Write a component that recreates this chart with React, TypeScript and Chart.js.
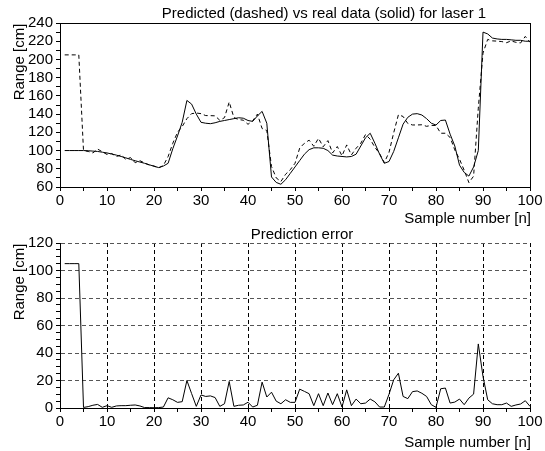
import React, { useEffect, useRef } from 'react';
import { Chart, registerables } from 'chart.js';

Chart.register(...registerables);

const FONT = '"Liberation Sans", Arial, Helvetica, sans-serif';

// Real (measured) range, samples 1..100
const realRange = [
  100, 100, 100, 100, 100, 99.8, 99.4, 99, 98.2, 97.4,
  96.2, 95, 93.5, 92, 90.3, 88.8, 87.4, 86, 84.4, 82.8,
  81.3, 83, 86, 102, 116, 131, 155, 151, 140, 131,
  130, 129.5, 130.5, 132, 133, 134, 135, 136, 135.5, 133,
  132, 138, 143, 130, 71, 65, 63, 68, 75, 82,
  89, 96, 101, 103, 103, 102.5, 100, 95, 94, 93.5,
  93, 93.5, 96, 105, 114, 119, 108, 96, 86, 88,
  99, 114, 129, 136.5, 140, 140.5, 139, 135, 130, 128,
  133, 133.5, 118, 105, 84, 76, 72, 82, 100, 230,
  228, 223.5, 222.5, 222, 222, 221.5, 221, 221, 220, 220,
];

// Predicted range, samples 1..100
const predictedRange = [
  205, 205, 205, 205, 100, 99, 97.4, 101.6, 98.7, 95.7,
  96.7, 93.5, 95.2, 90.3, 92.3, 86.6, 88.9, 86.3, 84.1, 83,
  81, 83.7, 93.4, 108, 120, 126.4, 135, 140.5, 141.2, 140.5,
  138.4, 138.3, 138.1, 133.2, 136.1, 153.3, 136.2, 134, 133.3, 128.8,
  132.7, 140, 124.2, 122, 82.5, 70, 66, 74, 79, 86,
  102.7, 108, 111.4, 104.7, 113.4, 104.2, 110.9, 97.4, 104.4, 94.2,
  106.2, 95.2, 102.5, 108, 117.6, 112.5, 103.5, 96.7, 86.7, 98,
  119.5, 139.3, 137.4, 129.7, 128.1, 128.1, 128.3, 126.6, 127.6, 127.5,
  119, 119, 114.4, 100.7, 90.5, 78.4, 64.8, 71.9, 146.6, 207,
  222, 220.4, 220.1, 219.6, 218.4, 220.3, 218.8, 218.1, 225.3, 218.8,
];

// Prediction error, samples 1..100
const predictionError = [
  105, 105, 105, 105, 0.4, 1, 2, 2.6, 0.5, 1.7,
  0.5, 1.5, 1.7, 1.7, 2, 2.2, 1.5, 0.3, 0.3, 0.2,
  0.3, 0.7, 7.4, 6, 4.1, 4.6, 20, 10.5, 1.2, 9.5,
  8.4, 8.8, 7.6, 1.2, 3.1, 19.3, 1.2, 2, 2.2, 4.2,
  0.7, 2, 18.8, 8, 11.5, 5, 3.1, 6, 4.1, 4.1,
  13.7, 12.1, 10.4, 1.7, 10.4, 1.7, 10.9, 2.4, 10.4, 0.7,
  13.2, 1.7, 6.5, 3.1, 3.6, 6.5, 4.5, 0.7, 0.7, 10,
  20.5, 25.3, 8.4, 6.8, 11.9, 12.4, 10.7, 8.4, 2.4, 0.5,
  14, 14.5, 3.6, 4.3, 6.5, 2.4, 7.2, 10.1, 46.6, 22.9,
  6, 3.1, 2.4, 2.4, 3.6, 1.2, 2.2, 2.9, 5.3, 1.2,
];

const sampleNumbers = realRange.map((_, i) => i + 1);

const xAxisRange = [0, 100];
const xTickStep = 5;
const xLabelStep = 10;
const topYRange = [60, 240];
const topYTickStep = 10;
const topYLabelStep = 20;
const bottomYRange = [0, 120];
const bottomYTickStep = 5;
const bottomYLabelStep = 20;

const topTitle = 'Predicted (dashed) vs real data (solid) for laser 1';
const bottomTitle = 'Prediction error';
const xTitle = 'Sample number [n]';
const yTitle = 'Range [cm]';

const toPoints = (values: number[]) => values.map((v, i) => ({ x: sampleNumbers[i], y: v }));

type TextSpec = {
  title: string;
  titleX: number;
  titleY: number;
  yTitleX: number;
  yTitleY: number;
  xTitleRight: number;
  xTitleY: number;
  box: boolean;
};

function makeTextPlugin(spec: TextSpec) {
  return {
    id: 'annotText',
    afterDraw(chart: any) {
      const { ctx, chartArea: a } = chart;
      ctx.save();
      if (spec.box) {
        ctx.strokeStyle = '#000';
        ctx.lineWidth = 1;
        ctx.setLineDash([]);
        ctx.beginPath();
        ctx.moveTo(Math.round(a.left), Math.round(a.top) + 0.5);
        ctx.lineTo(Math.round(a.right) + 1, Math.round(a.top) + 0.5);
        ctx.moveTo(Math.round(a.right) + 0.5, Math.round(a.top));
        ctx.lineTo(Math.round(a.right) + 0.5, Math.round(a.bottom) + 1);
        ctx.stroke();
      }
      ctx.fillStyle = '#000';
      ctx.font = `15px ${FONT}`;
      ctx.textBaseline = 'alphabetic';
      ctx.textAlign = 'center';
      ctx.fillText(spec.title, spec.titleX, spec.titleY);
      ctx.textAlign = 'right';
      ctx.fillText(xTitle, spec.xTitleRight, spec.xTitleY);
      ctx.save();
      ctx.translate(spec.yTitleX, spec.yTitleY);
      ctx.rotate(-Math.PI / 2);
      ctx.textAlign = 'center';
      ctx.fillText(yTitle, 0, 0);
      ctx.restore();
      ctx.restore();
    },
  };
}

const tickFont = { family: FONT, size: 15 };

function xScale(height: number, grid: boolean) {
  return {
    type: 'linear',
    min: xAxisRange[0],
    max: xAxisRange[1],
    afterFit: (s: any) => {
      s.height = height;
    },
    ticks: {
      stepSize: xTickStep,
      maxTicksLimit: 1000,
      autoSkip: false,
      maxRotation: 0,
      minRotation: 0,
      padding: 1,
      color: '#000',
      font: tickFont,
      callback: (v: number) => (v % xLabelStep === 0 ? String(v) : ''),
    },
    grid: {
      display: true,
      drawOnChartArea: grid,
      drawTicks: true,
      tickLength: 4,
      tickColor: '#000',
      tickWidth: 1,
      lineWidth: 1,
      color: (c: any) =>
        grid && c.tick && c.tick.value % xLabelStep === 0 && c.tick.value !== xAxisRange[0]
          ? '#000'
          : 'rgba(0,0,0,0)',
    },
    border: { display: true, color: '#000', width: 1, dash: grid ? [4, 3] : [] },
  };
}

function yScale(range: number[], step: number, labelStep: number, grid: boolean) {
  return {
    type: 'linear',
    min: range[0],
    max: range[1],
    afterFit: (s: any) => {
      s.width = 60;
    },
    ticks: {
      stepSize: step,
      maxTicksLimit: 1000,
      autoSkip: false,
      padding: 3,
      color: '#000',
      font: tickFont,
      callback: (v: number) => (v % labelStep === 0 ? String(v) : ''),
    },
    grid: {
      display: true,
      drawOnChartArea: grid,
      drawTicks: true,
      tickLength: 4,
      tickColor: '#000',
      tickWidth: 1,
      lineWidth: 1,
      color: (c: any) =>
        grid && c.tick && c.tick.value % labelStep === 0 && c.tick.value !== range[0]
          ? '#555'
          : 'rgba(0,0,0,0)',
    },
    border: { display: true, color: '#000', width: 1, dash: grid ? [4, 3] : [] },
  };
}

function topConfig(): any {
  return {
    type: 'line',
    data: {
      datasets: [
        {
          label: 'Predicted',
          data: toPoints(predictedRange),
          borderColor: '#000',
          borderWidth: 1,
          borderDash: [4, 3],
          pointRadius: 0,
          tension: 0,
          fill: false,
        },
        {
          label: 'Real',
          data: toPoints(realRange),
          borderColor: '#000',
          borderWidth: 1,
          pointRadius: 0,
          tension: 0,
          fill: false,
        },
      ],
    },
    options: {
      responsive: false,
      animation: false,
      devicePixelRatio: 1,
      events: [],
      layout: { padding: { top: 23, right: 15, left: 0, bottom: 0 } },
      plugins: { legend: { display: false }, tooltip: { enabled: false }, title: { display: false } },
      scales: {
        x: xScale(39, false),
        y: yScale(topYRange, topYTickStep, topYLabelStep, false),
      },
    },
    plugins: [
      makeTextPlugin({
        title: topTitle,
        titleX: 324,
        titleY: 18,
        yTitleX: 24,
        yTitleY: 62,
        xTitleRight: 531,
        xTitleY: 223,
        box: true,
      }),
    ],
  };
}

function bottomConfig(): any {
  return {
    type: 'line',
    data: {
      datasets: [
        {
          label: 'Error',
          data: toPoints(predictionError),
          borderColor: '#000',
          borderWidth: 1,
          pointRadius: 0,
          tension: 0,
          fill: false,
        },
      ],
    },
    options: {
      responsive: false,
      animation: false,
      devicePixelRatio: 1,
      events: [],
      layout: { padding: { top: 17, right: 15, left: 0, bottom: 0 } },
      plugins: { legend: { display: false }, tooltip: { enabled: false }, title: { display: false } },
      scales: {
        x: xScale(43, true),
        y: yScale(bottomYRange, bottomYTickStep, bottomYLabelStep, true),
      },
    },
    plugins: [
      makeTextPlugin({
        title: bottomTitle,
        titleX: 302,
        titleY: 13,
        yTitleX: 24,
        yTitleY: 56,
        xTitleRight: 531,
        xTitleY: 221,
        box: false,
      }),
    ],
  };
}

function PlotCanvas({ make, top, height }: { make: () => any; top: number; height: number }) {
  const ref = useRef<HTMLCanvasElement | null>(null);
  useEffect(() => {
    if (!ref.current) return;
    const chart = new Chart(ref.current, make());
    return () => chart.destroy();
  }, [make]);
  return (
    <canvas
      ref={ref}
      width={545}
      height={height}
      style={{ position: 'absolute', left: 0, top, width: 545, height, display: 'block' }}
    />
  );
}

export default function App() {
  return (
    <div style={{ position: 'absolute', left: 0, top: 0, width: 545, height: 451, background: '#fff' }}>
      <PlotCanvas make={topConfig} top={0} height={226} />
      <PlotCanvas make={bottomConfig} top={226} height={225} />
    </div>
  );
}
